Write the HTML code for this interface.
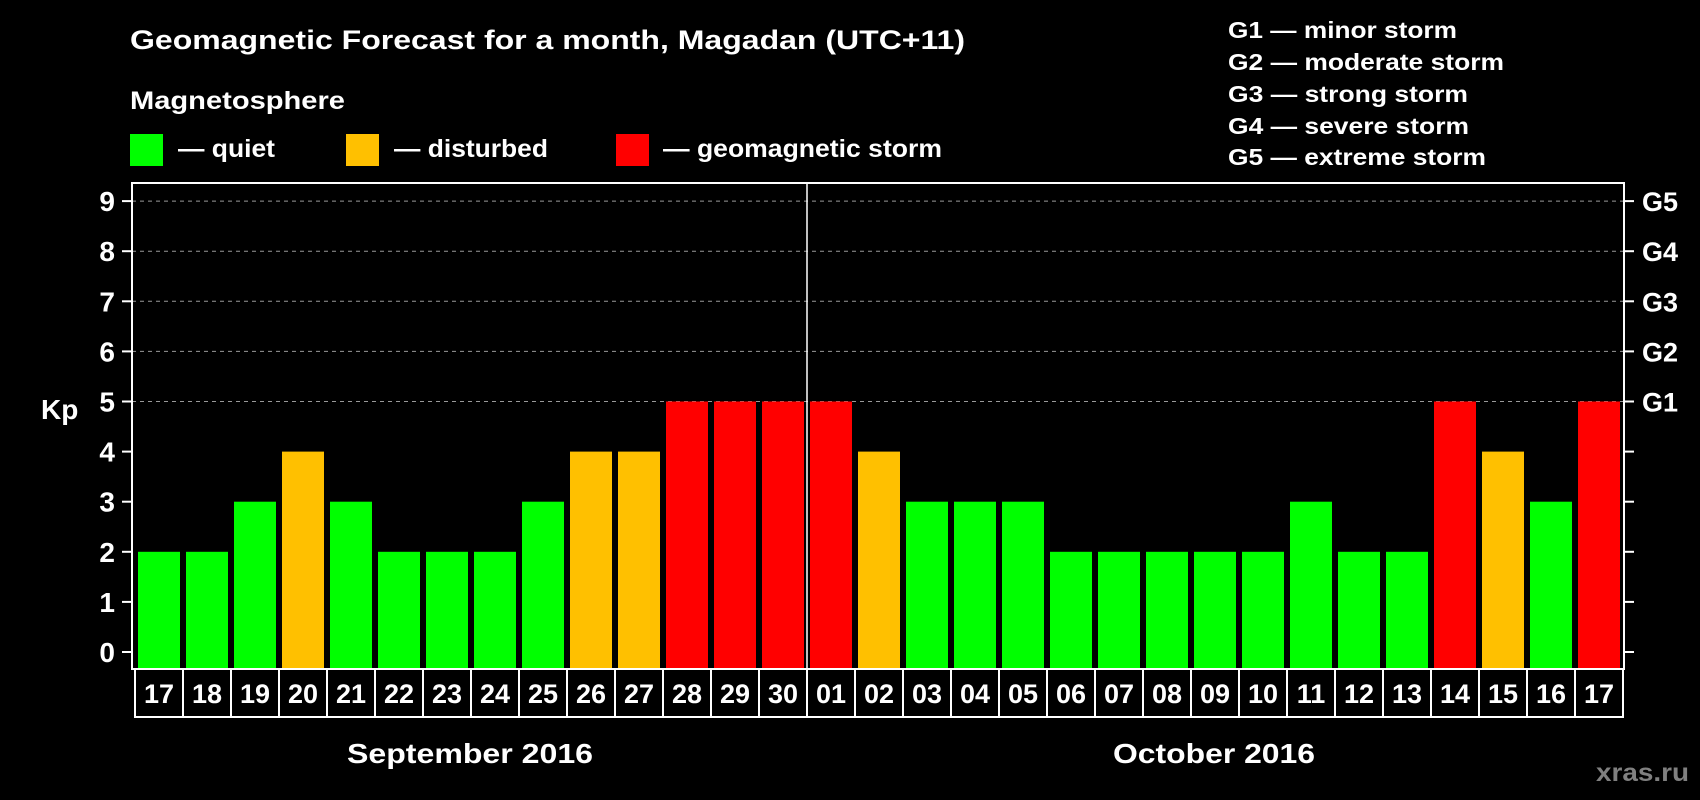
<!DOCTYPE html>
<html><head><meta charset="utf-8"><style>
html,body{margin:0;padding:0;background:#000;}
svg{display:block;font-family:"Liberation Sans",Arial,sans-serif;font-weight:bold;}
</style></head><body>
<svg id="chart" width="1700" height="800" viewBox="0 0 1700 800">
<rect x="0" y="0" width="1700" height="800" fill="#000"/>
<text x="130" y="49" fill="#fff" font-size="27" textLength="835" lengthAdjust="spacingAndGlyphs">Geomagnetic Forecast for a month, Magadan (UTC+11)</text>
<text x="130" y="109" fill="#fff" font-size="25" textLength="215" lengthAdjust="spacingAndGlyphs">Magnetosphere</text>
<g>
<rect x="130" y="134" width="33" height="32" fill="#00ff00"/>
<text x="178" y="157" fill="#fff" font-size="25" textLength="97" lengthAdjust="spacingAndGlyphs">— quiet</text></g>
<g>
<rect x="346" y="134" width="33" height="32" fill="#ffc000"/>
<text x="394" y="157" fill="#fff" font-size="25" textLength="154" lengthAdjust="spacingAndGlyphs">— disturbed</text></g>
<g>
<rect x="616" y="134" width="33" height="32" fill="#ff0000"/>
<text x="663" y="157" fill="#fff" font-size="25" textLength="279" lengthAdjust="spacingAndGlyphs">— geomagnetic storm</text></g>
<g font-size="23" fill="#fff">
<text x="1228" y="38" textLength="229" lengthAdjust="spacingAndGlyphs">G1 — minor storm</text>
<text x="1228" y="70" textLength="276" lengthAdjust="spacingAndGlyphs">G2 — moderate storm</text>
<text x="1228" y="102" textLength="240" lengthAdjust="spacingAndGlyphs">G3 — strong storm</text>
<text x="1228" y="134" textLength="241" lengthAdjust="spacingAndGlyphs">G4 — severe storm</text>
<text x="1228" y="165" textLength="258" lengthAdjust="spacingAndGlyphs">G5 — extreme storm</text>
</g>
<text x="41" y="419" fill="#fff" font-size="28">Kp</text>
<g id="plot"></g>
<text x="470" y="763" fill="#fff" font-size="28" text-anchor="middle" textLength="246" lengthAdjust="spacingAndGlyphs">September 2016</text>
<text x="1214" y="763" fill="#fff" font-size="28" text-anchor="middle" textLength="202" lengthAdjust="spacingAndGlyphs">October 2016</text>
<text x="1596" y="781" fill="#808080" font-size="25" textLength="93" lengthAdjust="spacingAndGlyphs">xras.ru</text>
</svg>
<script>
const days = ["17","18","19","20","21","22","23","24","25","26","27","28","29","30","01","02","03","04","05","06","07","08","09","10","11","12","13","14","15","16","17"];
const kpValues = [2,2,3,4,3,2,2,2,3,4,4,5,5,5,5,4,3,3,3,2,2,2,2,2,3,2,2,5,4,3,5];
const yTicks = [0,1,2,3,4,5,6,7,8,9];
const gLabels = ["G1","G2","G3","G4","G5"];
const gLevels = [5,6,7,8,9];
const monthSplitIndex = 14;

const NS = "http://www.w3.org/2000/svg";
const plot = document.getElementById("plot");
const L = 132, R = 1624, T = 183, B = 669;
const y0 = 652, unit = 50.1;
const colStart = 135, pitch = 48, barW = 42;
function yScale(v){ return y0 - v * unit; }
function xCol(i){ return colStart + i * pitch; }
function mk(tag, attrs){ const e = document.createElementNS(NS, tag); for (const k in attrs) e.setAttribute(k, attrs[k]); plot.appendChild(e); return e; }
function colorFor(v){ return v >= 5 ? "#ff0000" : (v >= 4 ? "#ffc000" : "#00ff00"); }

// grid lines
gLevels.forEach(function(v){
  const g = mk("line", {x1:L, x2:R, y1:yScale(v), y2:yScale(v), stroke:"#999", "stroke-width":1, "stroke-dasharray":"4,4"});
  
  
});
// bars
kpValues.forEach(function(v, i){
  const top = yScale(v);
  const b = mk("rect", {x:xCol(i)+3, y:top, width:barW, height:B - top, fill:colorFor(v)});
  
  
});
// frame
const fr = mk("rect", {x:L, y:T, width:R-L, height:B-T, fill:"none", stroke:"#fff", "stroke-width":2});


// month divider
const dv = mk("line", {x1:xCol(monthSplitIndex), x2:xCol(monthSplitIndex), y1:T, y2:B, stroke:"#fff", "stroke-width":1.5});


// y ticks & labels
yTicks.forEach(function(v){
  const y = yScale(v);
  const t1 = mk("line", {x1:L-10, x2:L, y1:y, y2:y, stroke:"#fff", "stroke-width":2});
  
  
  const t2 = mk("line", {x1:R, x2:R+10, y1:y, y2:y, stroke:"#fff", "stroke-width":2});
  
  
  const tx = mk("text", {x:115, y:y+10, fill:"#fff", "font-size":28, "text-anchor":"end"});
  tx.textContent = String(v);
  
  
});
// G labels
gLevels.forEach(function(v, i){
  const tx = mk("text", {x:1642, y:yScale(v)+10, fill:"#fff", "font-size":27});
  tx.textContent = gLabels[i];
  
  
});
// date boxes
days.forEach(function(d, i){
  const r = mk("rect", {x:xCol(i), y:B, width:pitch, height:717-B, fill:"none", stroke:"#fff", "stroke-width":2});
  
  
  const tx = mk("text", {x:xCol(i)+pitch/2, y:703, fill:"#fff", "font-size":27, "text-anchor":"middle"});
  tx.textContent = d;
  
  
});
</script>
</body></html>
